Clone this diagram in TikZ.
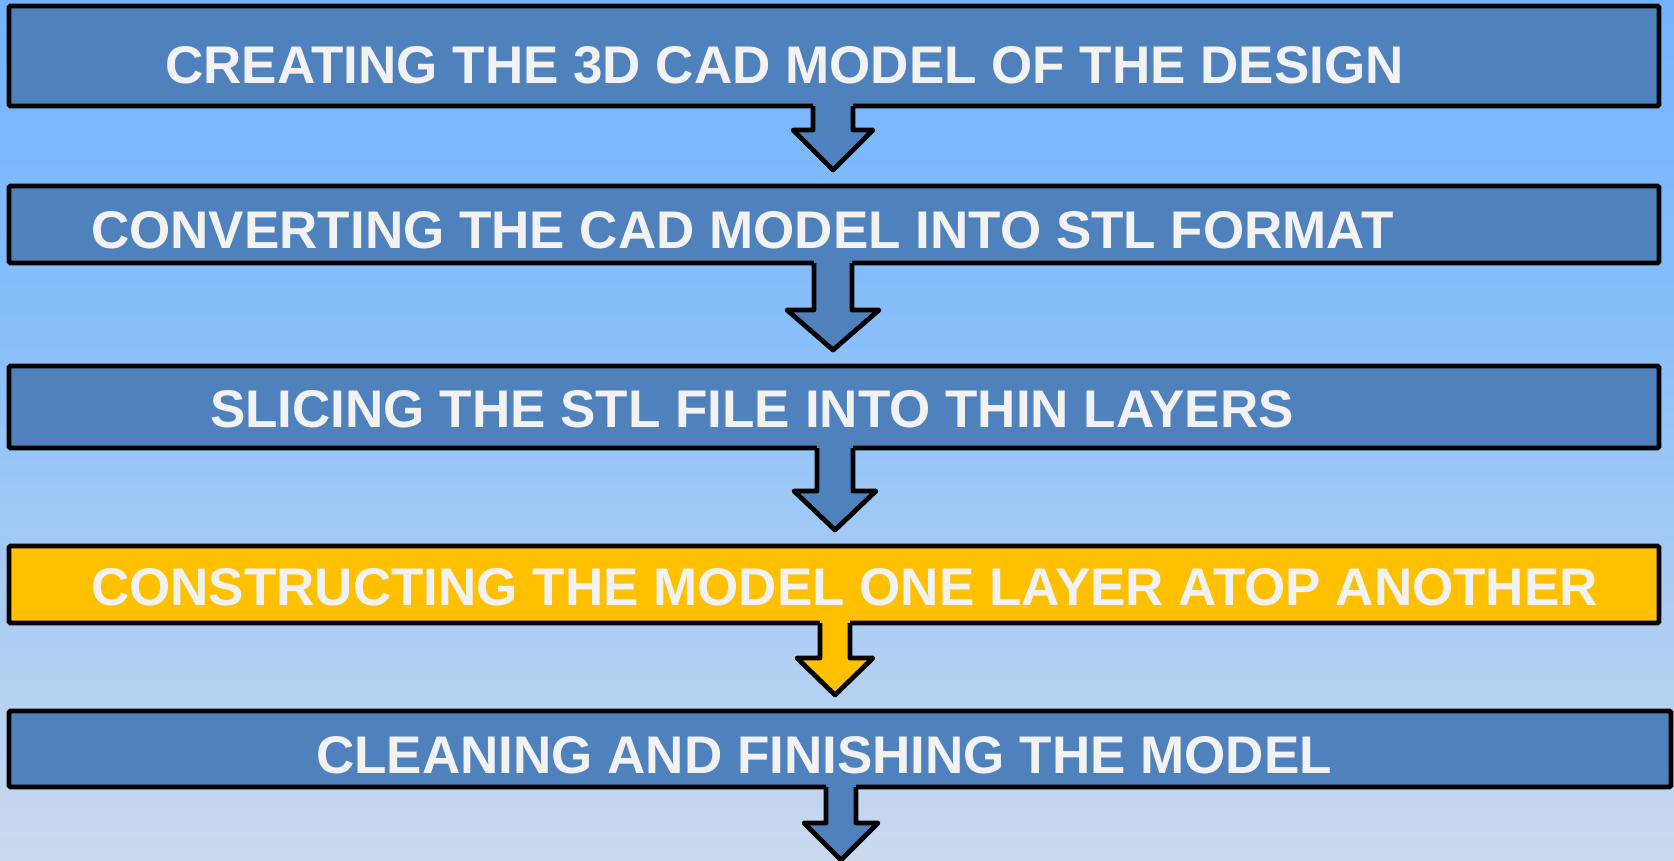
\documentclass[tikz,border=0pt]{standalone}
\usepackage{fontspec}
\setmainfont{Liberation Sans}
\usetikzlibrary{calc}
\definecolor{bgtop}{HTML}{75B2FE}
\definecolor{bgmid}{HTML}{88BFF9}
\definecolor{bgbot}{HTML}{CAD9EE}
\definecolor{boxblue}{HTML}{4F81BD}
\definecolor{boxyellow}{HTML}{FFC000}
\definecolor{txt}{HTML}{F2F2F2}
\pgfdeclareverticalshading{bgshade}{100bp}{color(0bp)=(bgbot); color(25bp)=(bgbot); color(56bp)=(bgmid); color(75bp)=(bgtop); color(100bp)=(bgtop)}
\tikzset{
  stepbox/.style={draw=black, line width=4.8pt, rounded corners=1.5pt, fill=boxblue, anchor=north west, inner sep=0pt, outer sep=0pt},
  steptext/.style={anchor=base west, inner sep=0pt, text=txt, font=\fontsize{53}{53}\selectfont\bfseries},
  arrowline/.style={draw=black, line width=4.8pt, line join=round, line cap=butt}
}
\begin{document}
\begin{tikzpicture}[x=1pt,y=-1pt]
\useasboundingbox (0,0) rectangle (1674,860);
\shade[shading=bgshade] (0,0) rectangle (1674,860);

% boxes
\node[stepbox, minimum width=1650pt, minimum height=100pt] (b1) at (9,6) {};
\node[stepbox, minimum width=1650pt, minimum height=77pt] (b2) at (9,186) {};
\node[stepbox, minimum width=1650pt, minimum height=82pt] (b3) at (9,366) {};
\node[stepbox, minimum width=1650pt, minimum height=77pt, fill=boxyellow] (b4) at (9,546) {};
\node[stepbox, minimum width=1662pt, minimum height=76pt] (b5) at (9,711) {};

% texts
\node[steptext] (t1) at (165,83) {CREATING THE 3D CAD MODEL OF THE DESIGN};
\node[steptext] (t2) at (91,248) {CONVERTING THE CAD MODEL INTO STL FORMAT};
\node[steptext] (t3) at (210,427) {SLICING THE STL FILE INTO THIN LAYERS};
\node[steptext] (t4) at (91,605) {CONSTRUCTING THE MODEL ONE LAYER ATOP ANOTHER};
\node[steptext] (t5) at (316,773) {CLEANING AND FINISHING THE MODEL};

% block arrows between boxes
% arrow 1
\fill[boxblue] (813,100) -- (813,130) -- (793,130) -- (833,170) -- (873,130) -- (853,130) -- (853,100) -- cycle;
\draw[arrowline] (813,106) -- (813,130) -- (793,130) -- (833,170) -- (873,130) -- (853,130) -- (853,106);
% arrow 2
\fill[boxblue] (814,257) -- (814,310) -- (787,310) -- (833,350) -- (879,310) -- (852,310) -- (852,257) -- cycle;
\draw[arrowline] (814,263) -- (814,310) -- (787,310) -- (833,350) -- (879,310) -- (852,310) -- (852,263);
% arrow 3
\fill[boxblue] (817,442) -- (817,491) -- (794,491) -- (835,530) -- (876,491) -- (853,491) -- (853,442) -- cycle;
\draw[arrowline] (817,448) -- (817,491) -- (794,491) -- (835,530) -- (876,491) -- (853,491) -- (853,448);
% arrow 4
\fill[boxyellow] (820,617) -- (820,658) -- (797,658) -- (835,695) -- (873,658) -- (850,658) -- (850,617) -- cycle;
\draw[arrowline] (820,623) -- (820,658) -- (797,658) -- (835,695) -- (873,658) -- (850,658) -- (850,623);
% arrow 5
\fill[boxblue] (826,781) -- (826,823) -- (804,823) -- (841,860) -- (878,823) -- (856,823) -- (856,781) -- cycle;
\draw[arrowline] (826,787) -- (826,823) -- (804,823) -- (841,860) -- (878,823) -- (856,823) -- (856,787);
\end{tikzpicture}
\end{document}
